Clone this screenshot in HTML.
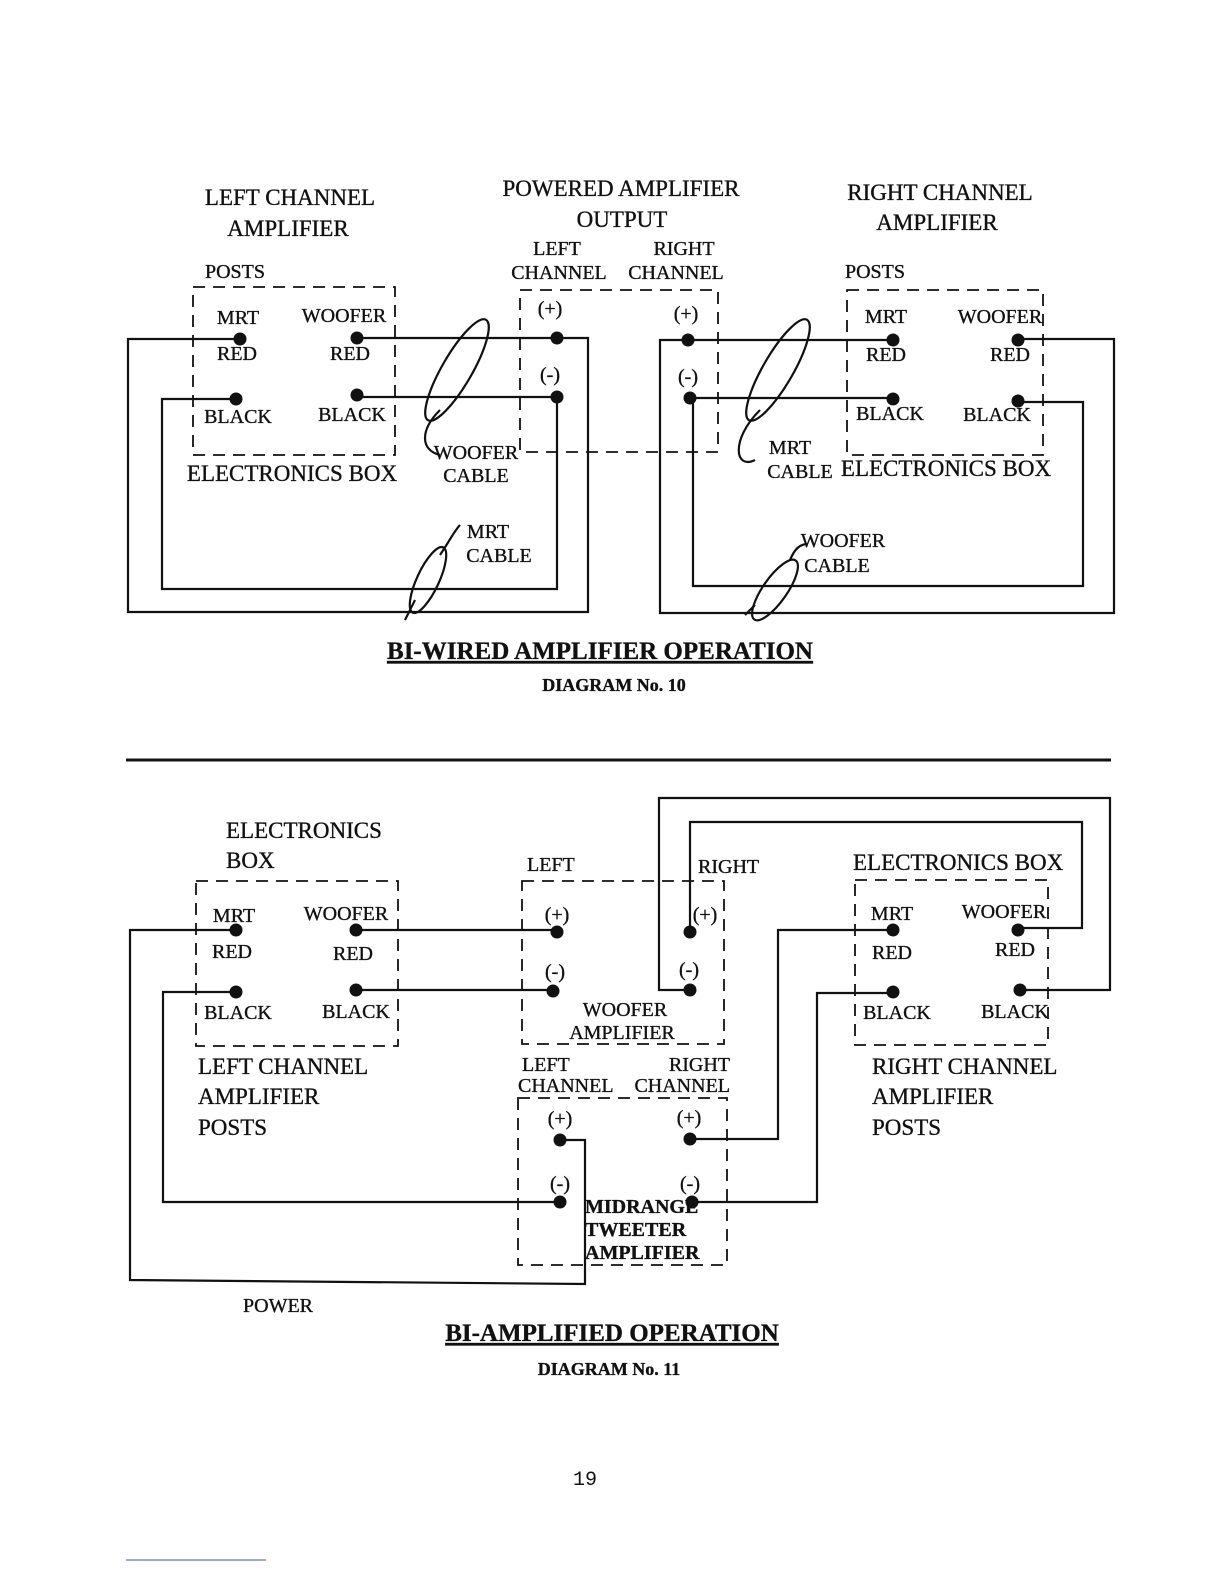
<!DOCTYPE html>
<html><head><meta charset="utf-8"><style>
html,body{margin:0;padding:0;background:#fff}
svg{display:block}
text{font-family:"Liberation Serif",serif;fill:#111;stroke:#111;stroke-width:0.35}
.h{font-size:23px}
.l{font-size:20px}
.s{font-size:18px;font-weight:bold}
.w{stroke:#111;stroke-width:2.2;fill:none}
.d{stroke:#111;stroke-width:1.8;fill:none;stroke-dasharray:12,8}
.c{stroke:#111;stroke-width:2.2;fill:none}
</style></head><body>
<svg width="1224" height="1584" viewBox="0 0 1224 1584" xmlns="http://www.w3.org/2000/svg">
<g fill="#111">
<text class="h" x="290" y="205" text-anchor="middle">LEFT CHANNEL</text>
<text class="h" x="288" y="236" text-anchor="middle">AMPLIFIER</text>
<text class="l" x="235" y="278" text-anchor="middle">POSTS</text>
<text class="h" x="621" y="196" text-anchor="middle">POWERED AMPLIFIER</text>
<text class="h" x="622" y="227" text-anchor="middle">OUTPUT</text>
<text class="l" x="557" y="255" text-anchor="middle">LEFT</text>
<text class="l" x="684" y="255" text-anchor="middle">RIGHT</text>
<text class="l" x="559" y="279" text-anchor="middle">CHANNEL</text>
<text class="l" x="676" y="279" text-anchor="middle">CHANNEL</text>
<text class="h" x="940" y="200" text-anchor="middle">RIGHT CHANNEL</text>
<text class="h" x="937" y="230" text-anchor="middle">AMPLIFIER</text>
<text class="l" x="875" y="278" text-anchor="middle">POSTS</text>

<text class="l" x="238" y="324" text-anchor="middle">MRT</text>
<text class="l" x="344" y="322" text-anchor="middle">WOOFER</text>
<text class="l" x="237" y="360" text-anchor="middle">RED</text>
<text class="l" x="350" y="360" text-anchor="middle">RED</text>
<text class="l" x="238" y="423" text-anchor="middle">BLACK</text>
<text class="l" x="352" y="421" text-anchor="middle">BLACK</text>
<text class="h" x="292" y="481" text-anchor="middle">ELECTRONICS BOX</text>
<text class="l" x="550" y="315" text-anchor="middle">(+)</text>
<text class="l" x="550" y="381" text-anchor="middle">(-)</text>
<text class="l" x="686" y="320" text-anchor="middle">(+)</text>
<text class="l" x="688" y="383" text-anchor="middle">(-)</text>
<text class="l" x="476" y="459" text-anchor="middle">WOOFER</text>
<text class="l" x="476" y="482" text-anchor="middle">CABLE</text>
<text class="l" x="488" y="538" text-anchor="middle">MRT</text>
<text class="l" x="499" y="562" text-anchor="middle">CABLE</text>

<text class="l" x="886" y="323" text-anchor="middle">MRT</text>
<text class="l" x="1000" y="323" text-anchor="middle">WOOFER</text>
<text class="l" x="886" y="361" text-anchor="middle">RED</text>
<text class="l" x="1010" y="361" text-anchor="middle">RED</text>
<text class="l" x="890" y="420" text-anchor="middle">BLACK</text>
<text class="l" x="997" y="421" text-anchor="middle">BLACK</text>
<text class="h" x="946" y="476" text-anchor="middle">ELECTRONICS BOX</text>
<text class="l" x="790" y="454" text-anchor="middle">MRT</text>
<text class="l" x="800" y="478" text-anchor="middle">CABLE</text>
<text class="l" x="843" y="547" text-anchor="middle">WOOFER</text>
<text class="l" x="837" y="572" text-anchor="middle">CABLE</text>

<text x="600" y="659" text-anchor="middle" style="font-size:25px;font-weight:bold;text-decoration:underline">BI-WIRED AMPLIFIER OPERATION</text>
<text class="s" x="614" y="691" text-anchor="middle">DIAGRAM No. 10</text>

<circle cx="240" cy="339" r="6.5"/><circle cx="357" cy="338" r="6.5"/>
<circle cx="236" cy="399" r="6.5"/><circle cx="357" cy="395" r="6.5"/>
<circle cx="557" cy="338" r="6.5"/><circle cx="557" cy="397" r="6.5"/>
<circle cx="688" cy="340" r="6.5"/><circle cx="690" cy="398" r="6.5"/>
<circle cx="893" cy="340" r="6.5"/><circle cx="1018" cy="340" r="6.5"/>
<circle cx="893" cy="399" r="6.5"/><circle cx="1018" cy="401" r="6.5"/>
</g>
<g>
<rect class="d" x="193" y="287" width="202" height="168"/>
<path class="d" d="M520 450 V290 H718 V452 H520"/>
<rect class="d" x="847" y="290" width="196" height="165"/>
<path class="w" d="M240 339 H128 V612 H588 V338 H357"/>
<path class="w" d="M236 399 H162 V589 H557 V397 H357"/>
<path class="w" d="M688 340 H660 V613 H1114 V339 H1018"/>
<path class="w" d="M688 340 H893"/>
<path class="w" d="M690 398 H893"/>
<path class="w" d="M693 398 V586 H1083 V402 H1018"/>
<ellipse class="c" cx="457" cy="370" rx="15" ry="58" transform="rotate(30 457 370)"/>
<path class="c" d="M440 410 C420 430 420 450 440 455"/>
<ellipse class="c" cx="428" cy="580" rx="11" ry="36" transform="rotate(25 428 580)"/>
<path class="c" d="M405 620 L415 600 M440 555 C450 540 455 530 460 525"/>
<ellipse class="c" cx="778" cy="370" rx="15" ry="58" transform="rotate(30 778 370)"/>
<path class="c" d="M760 410 C730 440 735 470 755 460"/>
<ellipse class="c" cx="775" cy="590" rx="12" ry="36" transform="rotate(35 775 590)"/>
<path class="c" d="M745 615 L755 605 M790 560 C795 548 800 545 806 544"/>
<line x1="126" y1="760" x2="1111" y2="760" stroke="#111" stroke-width="3"/>
</g>

<g fill="#111">
<text class="h" x="226" y="838">ELECTRONICS</text>
<text class="h" x="226" y="868">BOX</text>
<text class="l" x="527" y="871">LEFT</text>
<text class="l" x="698" y="873">RIGHT</text>
<text class="h" x="853" y="870">ELECTRONICS BOX</text>
<text class="l" x="234" y="922" text-anchor="middle">MRT</text>
<text class="l" x="346" y="920" text-anchor="middle">WOOFER</text>
<text class="l" x="232" y="958" text-anchor="middle">RED</text>
<text class="l" x="353" y="960" text-anchor="middle">RED</text>
<text class="l" x="238" y="1019" text-anchor="middle">BLACK</text>
<text class="l" x="356" y="1018" text-anchor="middle">BLACK</text>
<text class="h" x="198" y="1074">LEFT CHANNEL</text>
<text class="h" x="198" y="1104">AMPLIFIER</text>
<text class="h" x="198" y="1135">POSTS</text>
<text class="l" x="557" y="921" text-anchor="middle">(+)</text>
<text class="l" x="555" y="978" text-anchor="middle">(-)</text>
<text class="l" x="705" y="921" text-anchor="middle">(+)</text>
<text class="l" x="689" y="976" text-anchor="middle">(-)</text>
<text class="l" x="625" y="1016" text-anchor="middle">WOOFER</text>
<text class="l" x="622" y="1039" text-anchor="middle">AMPLIFIER</text>
<text class="l" x="522" y="1071">LEFT</text>
<text class="l" x="730" y="1071" text-anchor="end">RIGHT</text>
<text class="l" x="518" y="1092">CHANNEL</text>
<text class="l" x="730" y="1092" text-anchor="end">CHANNEL</text>
<text class="l" x="560" y="1125" text-anchor="middle">(+)</text>
<text class="l" x="689" y="1124" text-anchor="middle">(+)</text>
<text class="l" x="560" y="1190" text-anchor="middle">(-)</text>
<text class="l" x="690" y="1190" text-anchor="middle">(-)</text>
<text class="l" x="585" y="1213" style="font-weight:bold">MIDRANGE</text>
<text class="l" x="585" y="1236" style="font-weight:bold">TWEETER</text>
<text class="l" x="585" y="1259" style="font-weight:bold">AMPLIFIER</text>
<text class="l" x="892" y="920" text-anchor="middle">MRT</text>
<text class="l" x="1004" y="918" text-anchor="middle">WOOFER</text>
<text class="l" x="892" y="959" text-anchor="middle">RED</text>
<text class="l" x="1015" y="956" text-anchor="middle">RED</text>
<text class="l" x="897" y="1019" text-anchor="middle">BLACK</text>
<text class="l" x="1015" y="1018" text-anchor="middle">BLACK</text>
<text class="h" x="872" y="1074">RIGHT CHANNEL</text>
<text class="h" x="872" y="1104">AMPLIFIER</text>
<text class="h" x="872" y="1135">POSTS</text>
<text class="l" x="243" y="1312">POWER</text>
<text x="612" y="1341" text-anchor="middle" style="font-size:25px;font-weight:bold;text-decoration:underline">BI-AMPLIFIED OPERATION</text>
<text class="s" x="609" y="1375" text-anchor="middle">DIAGRAM No. 11</text>
<text x="585" y="1485" text-anchor="middle" style="font-family:'Liberation Mono',monospace;font-size:20px;stroke-width:0">19</text>

<circle cx="236" cy="930" r="6.5"/><circle cx="356" cy="930" r="6.5"/>
<circle cx="236" cy="992" r="6.5"/><circle cx="356" cy="990" r="6.5"/>
<circle cx="557" cy="932" r="6.5"/><circle cx="553" cy="991" r="6.5"/>
<circle cx="690" cy="932" r="6.5"/><circle cx="690" cy="990" r="6.5"/>
<circle cx="560" cy="1140" r="6.5"/><circle cx="690" cy="1139" r="6.5"/>
<circle cx="560" cy="1202" r="6.5"/><circle cx="692" cy="1202" r="6.5"/>
<circle cx="893" cy="930" r="6.5"/><circle cx="1018" cy="930" r="6.5"/>
<circle cx="893" cy="992" r="6.5"/><circle cx="1020" cy="990" r="6.5"/>
</g>
<g>
<rect class="d" x="196" y="881" width="202" height="165"/>
<rect class="d" x="522" y="881" width="202" height="163"/>
<rect class="d" x="518" y="1098" width="209" height="167"/>
<rect class="d" x="855" y="880" width="193" height="165"/>
<path class="w" d="M356 930 H557"/>
<path class="w" d="M356 990 H553"/>
<path class="w" d="M236 930 H130 V1280 L585 1284 V1140 H560"/>
<path class="w" d="M236 992 H163 V1202 H560"/>
<path class="w" d="M690 932 V822 H1082 V928 H1018"/>
<path class="w" d="M690 990 H659 V798 H1110 V990 H1020"/>
<path class="w" d="M690 1139 H778 V930 H893"/>
<path class="w" d="M692 1202 H817 V993 H893"/>
<line x1="126" y1="1560" x2="266" y2="1560" stroke="#35a" stroke-width="1"/>
</g>
</svg>
</body></html>
